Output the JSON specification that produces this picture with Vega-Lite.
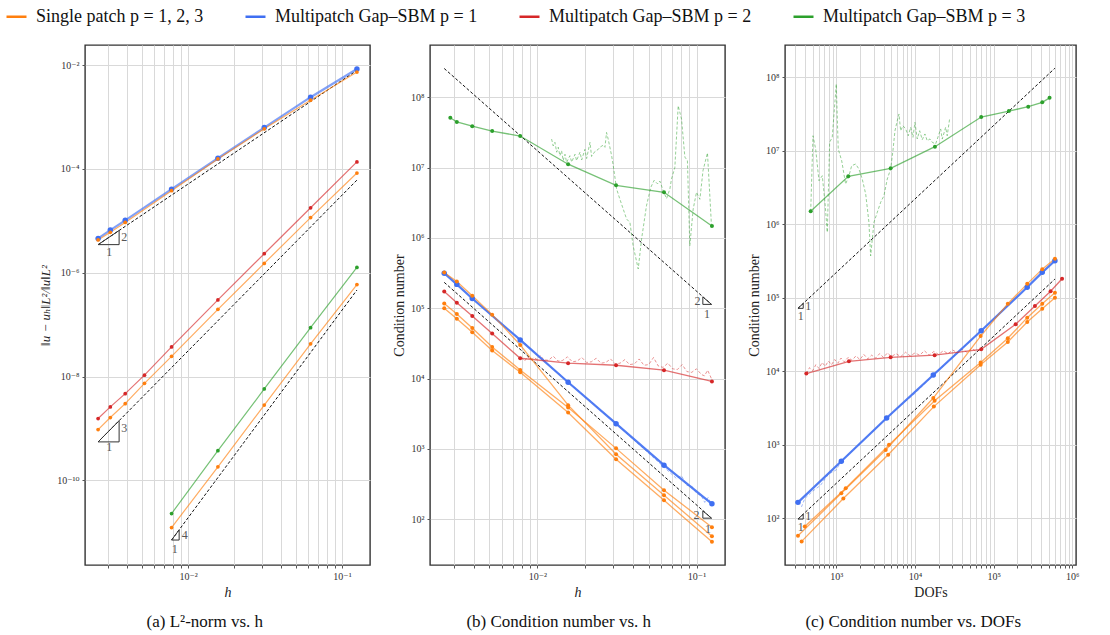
{
"$schema": "https://vega.github.io/schema/vega-lite/v6.json",
"padding": 5,
"background": "white",
"config": {
 "view": {"stroke": "#333", "strokeWidth": 1.4},
 "font": "Times New Roman, Liberation Serif, DejaVu Serif, serif",
 "axis": {"grid": true, "gridColor": "#d9d9d9", "gridWidth": 1, "domain": false, "tickColor": "#555", "tickSize": 3, "labelFont": "Times New Roman, Liberation Serif, DejaVu Serif, serif", "labelFontSize": 10, "labelColor": "#333", "titleFont": "Times New Roman, Liberation Serif, DejaVu Serif, serif", "titleFontWeight": "normal", "titleFontSize": 14, "titleColor": "#222", "labelOverlap": false, "labelFlush": false, "labelPadding": 3},
 "legend": {"labelFont": "Times New Roman, Liberation Serif, DejaVu Serif, serif", "titleFont": "Times New Roman, Liberation Serif, DejaVu Serif, serif"},
 "title": {"font": "Times New Roman, Liberation Serif, DejaVu Serif, serif", "fontSize": 17, "fontWeight": "normal", "color": "#111", "orient": "bottom", "offset": 15, "frame": "bounds", "anchor": "middle"},
 "text": {"font": "Times New Roman, Liberation Serif, DejaVu Serif, serif"}
},
"datasets": {
 "aMain": [
  {"x":0.0026042,"y":4.57e-6,"s":"M1","l":"M1"},{"x":0.003125,"y":6.61e-6,"s":"M1","l":"M1"},{"x":0.0039063,"y":1.02e-5,"s":"M1","l":"M1"},{"x":0.0078125,"y":4.07e-5,"s":"M1","l":"M1"},{"x":0.015625,"y":1.6e-4,"s":"M1","l":"M1"},{"x":0.03125,"y":6.24e-4,"s":"M1","l":"M1"},{"x":0.0625,"y":2.4e-3,"s":"M1","l":"M1"},{"x":0.125,"y":8.38e-3,"s":"M1","l":"M1"},
  {"x":0.0026042,"y":4.27e-6,"s":"S","l":"S1"},{"x":0.003125,"y":6.0e-6,"s":"S","l":"S1"},{"x":0.0039063,"y":9.3e-6,"s":"S","l":"S1"},{"x":0.0078125,"y":3.8e-5,"s":"S","l":"S1"},{"x":0.015625,"y":1.55e-4,"s":"S","l":"S1"},{"x":0.03125,"y":5.9e-4,"s":"S","l":"S1"},{"x":0.0625,"y":2.1e-3,"s":"S","l":"S1"},{"x":0.125,"y":7.33e-3,"s":"S","l":"S1"},
  {"x":0.0026042,"y":1.55e-9,"s":"M2","l":"M2"},{"x":0.003125,"y":2.6e-9,"s":"M2","l":"M2"},{"x":0.0039063,"y":4.68e-9,"s":"M2","l":"M2"},{"x":0.0052083,"y":1.06e-8,"s":"M2","l":"M2"},{"x":0.0078125,"y":3.72e-8,"s":"M2","l":"M2"},{"x":0.015625,"y":2.99e-7,"s":"M2","l":"M2"},{"x":0.03125,"y":2.32e-6,"s":"M2","l":"M2"},{"x":0.0625,"y":1.78e-5,"s":"M2","l":"M2"},{"x":0.125,"y":1.36e-4,"s":"M2","l":"M2"},
  {"x":0.0026042,"y":9.5e-10,"s":"S","l":"S2"},{"x":0.003125,"y":1.62e-9,"s":"S","l":"S2"},{"x":0.0039063,"y":3.0e-9,"s":"S","l":"S2"},{"x":0.0052083,"y":7.4e-9,"s":"S","l":"S2"},{"x":0.0078125,"y":2.45e-8,"s":"S","l":"S2"},{"x":0.015625,"y":1.97e-7,"s":"S","l":"S2"},{"x":0.03125,"y":1.51e-6,"s":"S","l":"S2"},{"x":0.0625,"y":1.15e-5,"s":"S","l":"S2"},{"x":0.125,"y":8.3e-5,"s":"S","l":"S2"},
  {"x":0.0078125,"y":2.29e-11,"s":"M3","l":"M3"},{"x":0.015625,"y":3.72e-10,"s":"M3","l":"M3"},{"x":0.03125,"y":5.75e-9,"s":"M3","l":"M3"},{"x":0.0625,"y":8.7e-8,"s":"M3","l":"M3"},{"x":0.125,"y":1.26e-6,"s":"M3","l":"M3"},
  {"x":0.0078125,"y":1.23e-11,"s":"S","l":"S3"},{"x":0.015625,"y":1.82e-10,"s":"S","l":"S3"},{"x":0.03125,"y":2.82e-9,"s":"S","l":"S3"},{"x":0.0625,"y":4.27e-8,"s":"S","l":"S3"},{"x":0.125,"y":5.9e-7,"s":"S","l":"S3"}
 ],
 "aRef": [
  {"x":0.0026042,"y":3.47e-6,"l":"r1"},{"x":0.125,"y":7.9e-3,"l":"r1"},
  {"x":0.0026042,"y":5.5e-10,"l":"r2"},{"x":0.125,"y":6.07e-5,"l":"r2"},
  {"x":0.0078125,"y":7.08e-12,"l":"r3"},{"x":0.125,"y":4.63e-7,"l":"r3"}
 ],
 "aTri": [
  {"x":0.0026042,"y":3.47e-6,"l":"t1","o":1},{"x":0.003565,"y":3.47e-6,"l":"t1","o":2},{"x":0.003565,"y":6.5e-6,"l":"t1","o":3},{"x":0.0026042,"y":3.47e-6,"l":"t1","o":4},
  {"x":0.0026042,"y":5.5e-10,"l":"t2","o":1},{"x":0.003565,"y":5.5e-10,"l":"t2","o":2},{"x":0.003565,"y":1.41e-9,"l":"t2","o":3},{"x":0.0026042,"y":5.5e-10,"l":"t2","o":4},
  {"x":0.0078125,"y":7.08e-12,"l":"t3","o":1},{"x":0.00875,"y":7.08e-12,"l":"t3","o":2},{"x":0.00875,"y":1.114e-11,"l":"t3","o":3},{"x":0.0078125,"y":7.08e-12,"l":"t3","o":4}
 ],
 "aLab": [
  {"x":0.003855,"y":4.85e-6,"t":"2"},{"x":0.00307,"y":2.51e-6,"t":"1"},
  {"x":0.003855,"y":1.03e-9,"t":"3"},{"x":0.00307,"y":4.31e-10,"t":"1"},
  {"x":0.00952,"y":8.7e-12,"t":"4"},{"x":0.0082,"y":4.8e-12,"t":"1"}
 ],
 "bMain": [
  {"x":0.0026042,"y":3.16e5,"s":"M1","l":"M1"},{"x":0.003125,"y":2.19e5,"s":"M1","l":"M1"},{"x":0.0039063,"y":1.38e5,"s":"M1","l":"M1"},{"x":0.0078125,"y":3.55e4,"s":"M1","l":"M1"},{"x":0.015625,"y":8900,"s":"M1","l":"M1"},{"x":0.03125,"y":2290,"s":"M1","l":"M1"},{"x":0.0625,"y":589,"s":"M1","l":"M1"},{"x":0.125,"y":166,"s":"M1","l":"M1"},
  {"x":0.0026042,"y":1.74e5,"s":"M2","l":"M2"},{"x":0.003125,"y":1.2e5,"s":"M2","l":"M2"},{"x":0.0039063,"y":7.76e4,"s":"M2","l":"M2"},{"x":0.0052083,"y":4.37e4,"s":"M2","l":"M2"},{"x":0.0078125,"y":1.95e4,"s":"M2","l":"M2"},{"x":0.015625,"y":1.66e4,"s":"M2","l":"M2"},{"x":0.03125,"y":1.55e4,"s":"M2","l":"M2"},{"x":0.0625,"y":1.32e4,"s":"M2","l":"M2"},{"x":0.125,"y":9120,"s":"M2","l":"M2"},
  {"x":0.002844,"y":5.13e7,"s":"M3","l":"M3"},{"x":0.003125,"y":4.47e7,"s":"M3","l":"M3"},{"x":0.0039063,"y":3.89e7,"s":"M3","l":"M3"},{"x":0.0052083,"y":3.31e7,"s":"M3","l":"M3"},{"x":0.0078125,"y":2.82e7,"s":"M3","l":"M3"},{"x":0.015625,"y":1.12e7,"s":"M3","l":"M3"},{"x":0.03125,"y":5.62e6,"s":"M3","l":"M3"},{"x":0.0625,"y":4.47e6,"s":"M3","l":"M3"},{"x":0.125,"y":1.48e6,"s":"M3","l":"M3"},
  {"x":0.0026042,"y":3.24e5,"s":"S","l":"S1"},{"x":0.003125,"y":2.4e5,"s":"S","l":"S1"},{"x":0.0039063,"y":1.51e5,"s":"S","l":"S1"},{"x":0.0052083,"y":8.13e4,"s":"S","l":"S1"},{"x":0.0078125,"y":3.02e4,"s":"S","l":"S1"},{"x":0.015625,"y":4200,"s":"S","l":"S1"},{"x":0.03125,"y":843,"s":"S","l":"S1"},{"x":0.0625,"y":220,"s":"S","l":"S1"},{"x":0.125,"y":57.5,"s":"S","l":"S1"},
  {"x":0.0026042,"y":1.0e5,"s":"S","l":"S2"},{"x":0.003125,"y":7.08e4,"s":"S","l":"S2"},{"x":0.0039063,"y":4.57e4,"s":"S","l":"S2"},{"x":0.0052083,"y":2.51e4,"s":"S","l":"S2"},{"x":0.0078125,"y":1.23e4,"s":"S","l":"S2"},{"x":0.015625,"y":3310,"s":"S","l":"S2"},{"x":0.03125,"y":716,"s":"S","l":"S2"},{"x":0.0625,"y":186,"s":"S","l":"S2"},{"x":0.125,"y":47.9,"s":"S","l":"S2"},
  {"x":0.0026042,"y":1.17e5,"s":"S","l":"S3"},{"x":0.003125,"y":8.32e4,"s":"S","l":"S3"},{"x":0.0039063,"y":5.25e4,"s":"S","l":"S3"},{"x":0.0052083,"y":2.82e4,"s":"S","l":"S3"},{"x":0.0078125,"y":1.33e4,"s":"S","l":"S3"},{"x":0.015625,"y":3890,"s":"S","l":"S3"},{"x":0.03125,"y":1020,"s":"S","l":"S3"},{"x":0.0625,"y":259,"s":"S","l":"S3"},{"x":0.125,"y":77.3,"s":"S","l":"S3"}
 ],
 "bFine": [
  {"x":0.01230,"y":2.553e7,"s":"M3"},{"x":0.01259,"y":2.042e7,"s":"M3"},{"x":0.01291,"y":2.291e7,"s":"M3"},{"x":0.01324,"y":1.660e7,"s":"M3"},{"x":0.01355,"y":1.950e7,"s":"M3"},{"x":0.01387,"y":1.479e7,"s":"M3"},{"x":0.01422,"y":1.738e7,"s":"M3"},{"x":0.01455,"y":1.259e7,"s":"M3"},{"x":0.01493,"y":1.549e7,"s":"M3"},{"x":0.01528,"y":1.189e7,"s":"M3"},{"x":0.01603,"y":1.479e7,"s":"M3"},{"x":0.01644,"y":1.202e7,"s":"M3"},{"x":0.01726,"y":1.549e7,"s":"M3"},{"x":0.01766,"y":1.259e7,"s":"M3"},{"x":0.01854,"y":1.660e7,"s":"M3"},{"x":0.01901,"y":1.288e7,"s":"M3"},{"x":0.01991,"y":1.820e7,"s":"M3"},{"x":0.02042,"y":1.349e7,"s":"M3"},{"x":0.02143,"y":2.291e7,"s":"M3"},{"x":0.02193,"y":1.445e7,"s":"M3"},{"x":0.02301,"y":1.698e7,"s":"M3"},{"x":0.02415,"y":1.820e7,"s":"M3"},{"x":0.02472,"y":1.950e7,"s":"M3"},{"x":0.02594,"y":2.089e7,"s":"M3"},{"x":0.02661,"y":1.950e7,"s":"M3"},{"x":0.02723,"y":3.162e7,"s":"M3"},{"x":0.02786,"y":2.570e7,"s":"M3"},{"x":0.02931,"y":1.479e7,"s":"M3"},{"x":0.02999,"y":1.072e7,"s":"M3"},{"x":0.03148,"y":5.01e6,"s":"M3"},{"x":0.03304,"y":3.55e6,"s":"M3"},{"x":0.03467,"y":2.57e6,"s":"M3"},{"x":0.03639,"y":1.862e6,"s":"M3"},{"x":0.03819,"y":1.660e6,"s":"M3"},{"x":0.03999,"y":7.76e5,"s":"M3"},{"x":0.04305,"y":3.63e5,"s":"M3"},{"x":0.04516,"y":9.55e5,"s":"M3"},{"x":0.04852,"y":2.88e6,"s":"M3"},{"x":0.05164,"y":5.25e6,"s":"M3"},{"x":0.05420,"y":6.61e6,"s":"M3"},{"x":0.05689,"y":5.89e6,"s":"M3"},{"x":0.05888,"y":6.46e6,"s":"M3"},{"x":0.06180,"y":4.68e6,"s":"M3"},{"x":0.06486,"y":3.63e6,"s":"M3"},{"x":0.06808,"y":5.01e6,"s":"M3"},{"x":0.06966,"y":6.92e6,"s":"M3"},{"x":0.07311,"y":1.0e7,"s":"M3"},{"x":0.07674,"y":7.59e7,"s":"M3"},{"x":0.08054,"y":4.90e7,"s":"M3"},{"x":0.08453,"y":1.413e7,"s":"M3"},{"x":0.08770,"y":1.259e7,"s":"M3"},{"x":0.09078,"y":7.76e5,"s":"M3"},{"x":0.09528,"y":2.57e6,"s":"M3"},{"x":0.1000,"y":4.47e6,"s":"M3"},{"x":0.1050,"y":3.55e6,"s":"M3"},{"x":0.1099,"y":9.12e6,"s":"M3"},{"x":0.1172,"y":1.622e7,"s":"M3"},{"x":0.1242,"y":1.479e6,"s":"M3"},
  {"x":0.007943,"y":19950,"s":"M2"},{"x":0.008318,"y":17780,"s":"M2"},{"x":0.008710,"y":20420,"s":"M2"},{"x":0.009120,"y":18200,"s":"M2"},{"x":0.009550,"y":19950,"s":"M2"},{"x":0.01,"y":18620,"s":"M2"},{"x":0.01047,"y":21380,"s":"M2"},{"x":0.01096,"y":18620,"s":"M2"},{"x":0.01175,"y":18200,"s":"M2"},{"x":0.01259,"y":20890,"s":"M2"},{"x":0.01349,"y":17780,"s":"M2"},{"x":0.01445,"y":18200,"s":"M2"},{"x":0.01549,"y":20420,"s":"M2"},{"x":0.01660,"y":17380,"s":"M2"},{"x":0.01778,"y":17780,"s":"M2"},{"x":0.01905,"y":19950,"s":"M2"},{"x":0.02042,"y":16980,"s":"M2"},{"x":0.02188,"y":17380,"s":"M2"},{"x":0.02344,"y":19500,"s":"M2"},{"x":0.02512,"y":16600,"s":"M2"},{"x":0.02692,"y":16980,"s":"M2"},{"x":0.02884,"y":19050,"s":"M2"},{"x":0.03090,"y":16220,"s":"M2"},{"x":0.03311,"y":16600,"s":"M2"},{"x":0.03548,"y":18620,"s":"M2"},{"x":0.03802,"y":15850,"s":"M2"},{"x":0.04074,"y":16220,"s":"M2"},{"x":0.04365,"y":19050,"s":"M2"},{"x":0.04677,"y":15490,"s":"M2"},{"x":0.05012,"y":15850,"s":"M2"},{"x":0.05370,"y":19950,"s":"M2"},{"x":0.05754,"y":15140,"s":"M2"},{"x":0.06166,"y":14450,"s":"M2"},{"x":0.06607,"y":16600,"s":"M2"},{"x":0.07079,"y":13800,"s":"M2"},{"x":0.07586,"y":13490,"s":"M2"},{"x":0.08128,"y":15850,"s":"M2"},{"x":0.08710,"y":12590,"s":"M2"},{"x":0.09333,"y":12300,"s":"M2"},{"x":0.1,"y":13800,"s":"M2"},{"x":0.1072,"y":11480,"s":"M2"},{"x":0.1122,"y":10960,"s":"M2"},{"x":0.1175,"y":13180,"s":"M2"},{"x":0.1259,"y":9333,"s":"M2"},
  {"x":0.007943,"y":35480,"s":"M1"},{"x":0.008913,"y":27860,"s":"M1"},{"x":0.01,"y":21380,"s":"M1"},{"x":0.01122,"y":17580,"s":"M1"},{"x":0.01259,"y":13490,"s":"M1"},{"x":0.01413,"y":11090,"s":"M1"},{"x":0.01585,"y":8511,"s":"M1"},{"x":0.01778,"y":7079,"s":"M1"},{"x":0.01995,"y":5495,"s":"M1"},{"x":0.02239,"y":4519,"s":"M1"},{"x":0.02512,"y":3467,"s":"M1"},{"x":0.02818,"y":2851,"s":"M1"},{"x":0.03162,"y":2239,"s":"M1"},{"x":0.07487,"y":380,"s":"M1"},{"x":0.08054,"y":417,"s":"M1"},{"x":0.08650,"y":305,"s":"M1"},{"x":0.09311,"y":299,"s":"M1"},{"x":0.1,"y":234,"s":"M1"},{"x":0.1074,"y":214,"s":"M1"},{"x":0.1127,"y":174,"s":"M1"},{"x":0.1183,"y":204,"s":"M1"},{"x":0.1242,"y":164,"s":"M1"}
 ],
 "bRef": [
  {"x":0.0026042,"y":2.57e8,"l":"r1"},{"x":0.1242,"y":1.138e5,"l":"r1"},
  {"x":0.0026042,"y":2.34e5,"l":"r2"},{"x":0.1242,"y":103.8,"l":"r2"}
 ],
 "bTri": [
  {"x":0.1096,"y":1.452e5,"l":"t1","o":1},{"x":0.1096,"y":1.138e5,"l":"t1","o":2},{"x":0.1242,"y":1.138e5,"l":"t1","o":3},{"x":0.1096,"y":1.452e5,"l":"t1","o":4},
  {"x":0.1096,"y":132,"l":"t2","o":1},{"x":0.1096,"y":103.8,"l":"t2","o":2},{"x":0.1242,"y":103.8,"l":"t2","o":3},{"x":0.1096,"y":132,"l":"t2","o":4}
 ],
 "bLab": [
  {"x":0.1014,"y":1.253e5,"t":"2"},{"x":0.1165,"y":8.26e4,"t":"1"},
  {"x":0.1,"y":114,"t":"2"},{"x":0.1183,"y":74,"t":"1"}
 ],
 "cMain": [
  {"x":326,"y":165,"s":"M1","l":"M1"},{"x":1159,"y":597,"s":"M1","l":"M1"},{"x":4365,"y":2317,"s":"M1","l":"M1"},{"x":17100,"y":8913,"s":"M1","l":"M1"},{"x":69500,"y":35600,"s":"M1","l":"M1"},{"x":267000,"y":139000,"s":"M1","l":"M1"},{"x":415000,"y":222000,"s":"M1","l":"M1"},{"x":601000,"y":320000,"s":"M1","l":"M1"},
  {"x":416,"y":9333,"s":"M2","l":"M2"},{"x":1449,"y":13680,"s":"M2","l":"M2"},{"x":4909,"y":15490,"s":"M2","l":"M2"},{"x":17780,"y":16600,"s":"M2","l":"M2"},{"x":69500,"y":19950,"s":"M2","l":"M2"},{"x":190500,"y":43650,"s":"M2","l":"M2"},{"x":335000,"y":77620,"s":"M2","l":"M2"},{"x":530000,"y":123000,"s":"M2","l":"M2"},{"x":741000,"y":182000,"s":"M2","l":"M2"},
  {"x":473,"y":1.503e6,"s":"M3","l":"M3"},{"x":1422,"y":4.5e6,"s":"M3","l":"M3"},{"x":4909,"y":5.78e6,"s":"M3","l":"M3"},{"x":17950,"y":1.138e7,"s":"M3","l":"M3"},{"x":69500,"y":2.88e7,"s":"M3","l":"M3"},{"x":156300,"y":3.47e7,"s":"M3","l":"M3"},{"x":275400,"y":3.98e7,"s":"M3","l":"M3"},{"x":415000,"y":4.57e7,"s":"M3","l":"M3"},{"x":514000,"y":5.25e7,"s":"M3","l":"M3"},
  {"x":326,"y":57.9,"s":"S","l":"S1"},{"x":1159,"y":219,"s":"S","l":"S1"},{"x":4246,"y":851,"s":"S","l":"S1"},{"x":17100,"y":4335,"s":"S","l":"S1"},{"x":68400,"y":30200,"s":"S","l":"S1"},{"x":151400,"y":83180,"s":"S","l":"S1"},{"x":267300,"y":154900,"s":"S","l":"S1"},{"x":415000,"y":245500,"s":"S","l":"S1"},{"x":601000,"y":338800,"s":"S","l":"S1"},
  {"x":363,"y":48.6,"s":"S","l":"S2"},{"x":1230,"y":186,"s":"S","l":"S2"},{"x":4571,"y":733,"s":"S","l":"S2"},{"x":17380,"y":3311,"s":"S","l":"S2"},{"x":68400,"y":12300,"s":"S","l":"S2"},{"x":151400,"y":25100,"s":"S","l":"S2"},{"x":267300,"y":46800,"s":"S","l":"S2"},{"x":415000,"y":70800,"s":"S","l":"S2"},{"x":601000,"y":100000,"s":"S","l":"S2"},
  {"x":398,"y":77.6,"s":"S","l":"S3"},{"x":1318,"y":257,"s":"S","l":"S3"},{"x":4677,"y":1000,"s":"S","l":"S3"},{"x":17780,"y":3981,"s":"S","l":"S3"},{"x":68400,"y":13180,"s":"S","l":"S3"},{"x":151400,"y":28180,"s":"S","l":"S3"},{"x":267300,"y":53700,"s":"S","l":"S3"},{"x":415000,"y":83180,"s":"S","l":"S3"},{"x":601000,"y":117500,"s":"S","l":"S3"}
 ],
 "cFine": [
  {"x":473,"y":1.483e6,"s":"M3"},{"x":506,"y":1.603e7,"s":"M3"},{"x":547,"y":1.057e7,"s":"M3"},{"x":603,"y":3.917e6,"s":"M3"},{"x":664,"y":4.581e6,"s":"M3"},{"x":718,"y":1.991e6,"s":"M3"},{"x":769,"y":7.78e5,"s":"M3"},{"x":824,"y":1.306e7,"s":"M3"},{"x":889,"y":1.528e7,"s":"M3"},{"x":1000,"y":8.11e7,"s":"M3"},{"x":1059,"y":1.057e7,"s":"M3"},{"x":1172,"y":7.33e6,"s":"M3"},{"x":1315,"y":3.532e6,"s":"M3"},{"x":1449,"y":4.581e6,"s":"M3"},{"x":1570,"y":6.27e6,"s":"M3"},{"x":1762,"y":6.61e6,"s":"M3"},{"x":1941,"y":5.65e6,"s":"M3"},{"x":2138,"y":4.13e6,"s":"M3"},{"x":2366,"y":2.582e6,"s":"M3"},{"x":2600,"y":1.064e6,"s":"M3"},{"x":2735,"y":3.72e5,"s":"M3"},{"x":3013,"y":1.064e6,"s":"M3"},{"x":3319,"y":1.455e6,"s":"M3"},{"x":3664,"y":1.991e6,"s":"M3"},{"x":4036,"y":2.449e6,"s":"M3"},{"x":4446,"y":4.13e6,"s":"M3"},{"x":4909,"y":5.65e6,"s":"M3"},{"x":5248,"y":1.002e7,"s":"M3"},{"x":5572,"y":1.875e7,"s":"M3"},{"x":5957,"y":2.564e7,"s":"M3"},{"x":6266,"y":3.17e7,"s":"M3"},{"x":6577,"y":1.875e7,"s":"M3"},{"x":7047,"y":2.193e7,"s":"M3"},{"x":7621,"y":1.982e7,"s":"M3"},{"x":8222,"y":1.603e7,"s":"M3"},{"x":8810,"y":2.089e7,"s":"M3"},{"x":9441,"y":1.528e7,"s":"M3"},{"x":10000,"y":2.443e7,"s":"M3"},{"x":10690,"y":1.449e7,"s":"M3"},{"x":11480,"y":1.875e7,"s":"M3"},{"x":12390,"y":1.416e7,"s":"M3"},{"x":13400,"y":1.694e7,"s":"M3"},{"x":14320,"y":1.371e7,"s":"M3"},{"x":15520,"y":1.449e7,"s":"M3"},{"x":16600,"y":1.306e7,"s":"M3"},{"x":18320,"y":1.239e7,"s":"M3"},{"x":21230,"y":1.982e7,"s":"M3"},{"x":22230,"y":1.445e7,"s":"M3"},{"x":24550,"y":2.089e7,"s":"M3"},{"x":25700,"y":1.603e7,"s":"M3"},{"x":27540,"y":2.692e7,"s":"M3"},
  {"x":417,"y":9333,"s":"M2"},{"x":457,"y":11220,"s":"M2"},{"x":501,"y":10230,"s":"M2"},{"x":550,"y":12300,"s":"M2"},{"x":603,"y":10960,"s":"M2"},{"x":661,"y":13180,"s":"M2"},{"x":724,"y":11750,"s":"M2"},{"x":794,"y":13800,"s":"M2"},{"x":871,"y":12300,"s":"M2"},{"x":955,"y":14450,"s":"M2"},{"x":1047,"y":12880,"s":"M2"},{"x":1148,"y":15140,"s":"M2"},{"x":1259,"y":13490,"s":"M2"},{"x":1413,"y":15490,"s":"M2"},{"x":1585,"y":14130,"s":"M2"},{"x":1778,"y":16220,"s":"M2"},{"x":1995,"y":14450,"s":"M2"},{"x":2239,"y":16980,"s":"M2"},{"x":2512,"y":14790,"s":"M2"},{"x":2818,"y":16600,"s":"M2"},{"x":3162,"y":15140,"s":"M2"},{"x":3548,"y":17380,"s":"M2"},{"x":3981,"y":15490,"s":"M2"},{"x":4467,"y":17780,"s":"M2"},{"x":5012,"y":15850,"s":"M2"},{"x":5754,"y":17380,"s":"M2"},{"x":6607,"y":15850,"s":"M2"},{"x":7586,"y":18200,"s":"M2"},{"x":8710,"y":16220,"s":"M2"},{"x":10000,"y":17780,"s":"M2"},{"x":11480,"y":16600,"s":"M2"},{"x":13180,"y":19050,"s":"M2"},{"x":15140,"y":16600,"s":"M2"},{"x":17380,"y":18620,"s":"M2"},{"x":19950,"y":16980,"s":"M2"},{"x":22910,"y":19050,"s":"M2"},{"x":26300,"y":17380,"s":"M2"},{"x":30200,"y":19500,"s":"M2"},{"x":34670,"y":17780,"s":"M2"},{"x":39810,"y":19950,"s":"M2"},{"x":45710,"y":18200,"s":"M2"},{"x":52480,"y":20420,"s":"M2"},{"x":60260,"y":18620,"s":"M2"},{"x":69180,"y":19950,"s":"M2"},
  {"x":326,"y":166,"s":"M1"},{"x":363,"y":145,"s":"M1"},{"x":398,"y":186,"s":"M1"},{"x":501,"y":234,"s":"M1"},{"x":631,"y":282,"s":"M1"},{"x":794,"y":398,"s":"M1"},{"x":1000,"y":457,"s":"M1"},{"x":1159,"y":603,"s":"M1"},{"x":4365,"y":2317,"s":"M1"},{"x":6310,"y":3311,"s":"M1"},{"x":10000,"y":5012,"s":"M1"},{"x":17100,"y":8913,"s":"M1"},{"x":25120,"y":12880,"s":"M1"},{"x":39810,"y":20420,"s":"M1"},{"x":69500,"y":35650,"s":"M1"}
 ],
 "cRef": [
  {"x":326,"y":7.19e4,"l":"r1"},{"x":601000,"y":1.33e8,"l":"r1"},
  {"x":326,"y":97.7,"l":"r2"},{"x":601000,"y":1.8e5,"l":"r2"}
 ],
 "cTri": [
  {"x":326,"y":7.19e4,"l":"t1","o":1},{"x":380,"y":7.19e4,"l":"t1","o":2},{"x":380,"y":8.39e4,"l":"t1","o":3},{"x":326,"y":7.19e4,"l":"t1","o":4},
  {"x":326,"y":97.7,"l":"t2","o":1},{"x":380,"y":97.7,"l":"t2","o":2},{"x":380,"y":114,"l":"t2","o":3},{"x":326,"y":97.7,"l":"t2","o":4}
 ],
 "cLab": [
  {"x":440,"y":7.76e4,"t":"1"},{"x":353,"y":5.7e4,"t":"1"},
  {"x":440,"y":108,"t":"1"},{"x":353,"y":76,"t":"1"}
 ]
},
"spacing": 20,
"resolve": {"scale": {"color": "shared"}},
"hconcat": [
 {
  "width": 285, "height": 520,
  "title": {"text": "(a) L²-norm vs. h"},
  "layer": [
   {"data": {"name": "aRef"}, "mark": {"type": "line", "color": "#111", "strokeDash": [3, 2], "strokeWidth": 1, "clip": true},
    "encoding": {
     "x": {"field": "x", "type": "quantitative", "scale": {"type": "log", "domain": [0.00214, 0.152], "nice": false},
      "axis": {"title": "h", "titleFontStyle": "italic", "values": [0.003,0.004,0.005,0.006,0.007,0.008,0.009,0.01,0.02,0.03,0.04,0.05,0.06,0.07,0.08,0.09,0.1],
       "labelExpr": "abs(log(datum.value)/LN10 - round(log(datum.value)/LN10)) < 0.01 ? '10' + replace(replace(replace(replace(replace(replace(replace(replace(replace(replace(replace(toString(round(log(datum.value)/LN10)),'-','⁻'),'0','⁰'),'1','¹'),'2','²'),'3','³'),'4','⁴'),'5','⁵'),'6','⁶'),'7','⁷'),'8','⁸'),'9','⁹') : ''"}},
     "y": {"field": "y", "type": "quantitative", "scale": {"type": "log", "domain": [2.34e-12, 0.0243], "nice": false},
      "axis": {"title": "‖u − uₕ‖L²/‖u‖L²", "titleFontStyle": "italic", "titleFontSize": 13, "values": [1e-10, 1e-8, 1e-6, 1e-4, 1e-2],
       "labelExpr": "abs(log(datum.value)/LN10 - round(log(datum.value)/LN10)) < 0.01 ? '10' + replace(replace(replace(replace(replace(replace(replace(replace(replace(replace(replace(toString(round(log(datum.value)/LN10)),'-','⁻'),'0','⁰'),'1','¹'),'2','²'),'3','³'),'4','⁴'),'5','⁵'),'6','⁶'),'7','⁷'),'8','⁸'),'9','⁹') : ''"}},
     "detail": {"field": "l"}
    }},
   {"data": {"name": "aMain"}, "mark": {"type": "line", "opacity": 0.65, "clip": true},
    "encoding": {
     "x": {"field": "x", "type": "quantitative"},
     "y": {"field": "y", "type": "quantitative"},
     "detail": {"field": "l"},
     "color": {"field": "s", "type": "nominal", "scale": {"domain": ["S", "M1", "M2", "M3"], "range": ["#ff7f0e", "#3f6ff2", "#d62728", "#2ca02c"]},
      "legend": {"orient": "none", "direction": "horizontal", "legendX": -80, "legendY": -40, "title": null, "symbolType": "stroke", "symbolStrokeWidth": 2.5, "symbolSize": 400, "symbolOpacity": 1, "labelFont": "Times New Roman, Liberation Serif, DejaVu Serif, serif", "labelFontSize": 18, "labelColor": "#111", "labelLimit": 400, "columnPadding": 36, "labelOffset": 8,
       "labelExpr": "datum.label == 'S' ? 'Single patch p = 1, 2, 3' : datum.label == 'M1' ? 'Multipatch Gap–SBM p = 1' : datum.label == 'M2' ? 'Multipatch Gap–SBM p = 2' : 'Multipatch Gap–SBM p = 3'"}},
     "strokeWidth": {"condition": {"test": "datum.s == 'M1'", "value": 2.2}, "value": 1.2}
    }},
   {"data": {"name": "aMain"}, "mark": {"type": "circle", "opacity": 1, "clip": true},
    "encoding": {
     "x": {"field": "x", "type": "quantitative"},
     "y": {"field": "y", "type": "quantitative"},
     "color": {"field": "s", "type": "nominal", "legend": null},
     "size": {"condition": {"test": "datum.s == 'M1'", "value": 30}, "value": 14}
    }},
   {"data": {"name": "aTri"}, "mark": {"type": "line", "color": "#333", "strokeWidth": 1},
    "encoding": {"x": {"field": "x", "type": "quantitative"}, "y": {"field": "y", "type": "quantitative"}, "detail": {"field": "l"}, "order": {"field": "o"}}},
   {"data": {"name": "aLab"}, "mark": {"type": "text", "fontSize": 12, "color": "#555"},
    "encoding": {"x": {"field": "x", "type": "quantitative"}, "y": {"field": "y", "type": "quantitative"}, "text": {"field": "t"}}}
  ]
 },
 {
  "width": 295, "height": 520,
  "title": {"text": "(b) Condition number vs. h"},
  "layer": [
   {"data": {"name": "bRef"}, "mark": {"type": "line", "color": "#111", "strokeDash": [3, 2], "strokeWidth": 1, "clip": true},
    "encoding": {
     "x": {"field": "x", "type": "quantitative", "scale": {"type": "log", "domain": [0.00212, 0.151], "nice": false},
      "axis": {"title": "h", "titleFontStyle": "italic", "values": [0.003,0.004,0.005,0.006,0.007,0.008,0.009,0.01,0.02,0.03,0.04,0.05,0.06,0.07,0.08,0.09,0.1],
       "labelExpr": "abs(log(datum.value)/LN10 - round(log(datum.value)/LN10)) < 0.01 ? '10' + replace(replace(replace(replace(replace(replace(replace(replace(replace(replace(replace(toString(round(log(datum.value)/LN10)),'-','⁻'),'0','⁰'),'1','¹'),'2','²'),'3','³'),'4','⁴'),'5','⁵'),'6','⁶'),'7','⁷'),'8','⁸'),'9','⁹') : ''"}},
     "y": {"field": "y", "type": "quantitative", "scale": {"type": "log", "domain": [22.4, 5.55e8], "nice": false},
      "axis": {"title": "Condition number", "values": [100, 1000, 1e4, 1e5, 1e6, 1e7, 1e8],
       "labelExpr": "abs(log(datum.value)/LN10 - round(log(datum.value)/LN10)) < 0.01 ? '10' + replace(replace(replace(replace(replace(replace(replace(replace(replace(replace(replace(toString(round(log(datum.value)/LN10)),'-','⁻'),'0','⁰'),'1','¹'),'2','²'),'3','³'),'4','⁴'),'5','⁵'),'6','⁶'),'7','⁷'),'8','⁸'),'9','⁹') : ''"}},
     "detail": {"field": "l"}
    }},
   {"data": {"name": "bFine"}, "mark": {"type": "line", "opacity": 0.5, "strokeDash": [3, 2], "strokeWidth": 1, "clip": true},
    "encoding": {"x": {"field": "x", "type": "quantitative"}, "y": {"field": "y", "type": "quantitative"}, "color": {"field": "s", "type": "nominal", "legend": null}}},
   {"data": {"name": "bMain"}, "mark": {"type": "line", "clip": true},
    "encoding": {
     "x": {"field": "x", "type": "quantitative"},
     "y": {"field": "y", "type": "quantitative"},
     "detail": {"field": "l"},
     "color": {"field": "s", "type": "nominal", "legend": null},
     "opacity": {"condition": {"test": "datum.s == 'M1'", "value": 0.9}, "value": 0.65},
     "strokeWidth": {"condition": {"test": "datum.s == 'M1'", "value": 2.2}, "value": 1.3}
    }},
   {"data": {"name": "bMain"}, "mark": {"type": "circle", "opacity": 1, "clip": true},
    "encoding": {
     "x": {"field": "x", "type": "quantitative"},
     "y": {"field": "y", "type": "quantitative"},
     "color": {"field": "s", "type": "nominal", "legend": null},
     "size": {"condition": {"test": "datum.s == 'M1'", "value": 30}, "value": 16}
    }},
   {"data": {"name": "bTri"}, "mark": {"type": "line", "color": "#333", "strokeWidth": 1},
    "encoding": {"x": {"field": "x", "type": "quantitative"}, "y": {"field": "y", "type": "quantitative"}, "detail": {"field": "l"}, "order": {"field": "o"}}},
   {"data": {"name": "bLab"}, "mark": {"type": "text", "fontSize": 12, "color": "#555"},
    "encoding": {"x": {"field": "x", "type": "quantitative"}, "y": {"field": "y", "type": "quantitative"}, "text": {"field": "t"}}}
  ]
 },
 {
  "width": 291, "height": 520,
  "title": {"text": "(c) Condition number vs. DOFs"},
  "layer": [
   {"data": {"name": "cRef"}, "mark": {"type": "line", "color": "#111", "strokeDash": [3, 2], "strokeWidth": 1, "clip": true},
    "encoding": {
     "x": {"field": "x", "type": "quantitative", "scale": {"type": "log", "domain": [223, 1.114e6], "nice": false},
      "axis": {"title": "DOFs", "values": [300,400,500,600,700,800,900,1000,2000,3000,4000,5000,6000,7000,8000,9000,10000,20000,30000,40000,50000,60000,70000,80000,90000,100000,200000,300000,400000,500000,600000,700000,800000,900000,1000000],
       "labelExpr": "abs(log(datum.value)/LN10 - round(log(datum.value)/LN10)) < 0.01 ? '10' + replace(replace(replace(replace(replace(replace(replace(replace(replace(replace(replace(toString(round(log(datum.value)/LN10)),'-','⁻'),'0','⁰'),'1','¹'),'2','²'),'3','³'),'4','⁴'),'5','⁵'),'6','⁶'),'7','⁷'),'8','⁸'),'9','⁹') : ''"}},
     "y": {"field": "y", "type": "quantitative", "scale": {"type": "log", "domain": [23.2, 2.75e8], "nice": false},
      "axis": {"title": "Condition number", "values": [100, 1000, 1e4, 1e5, 1e6, 1e7, 1e8],
       "labelExpr": "abs(log(datum.value)/LN10 - round(log(datum.value)/LN10)) < 0.01 ? '10' + replace(replace(replace(replace(replace(replace(replace(replace(replace(replace(replace(toString(round(log(datum.value)/LN10)),'-','⁻'),'0','⁰'),'1','¹'),'2','²'),'3','³'),'4','⁴'),'5','⁵'),'6','⁶'),'7','⁷'),'8','⁸'),'9','⁹') : ''"}},
     "detail": {"field": "l"}
    }},
   {"data": {"name": "cFine"}, "mark": {"type": "line", "opacity": 0.5, "strokeDash": [3, 2], "strokeWidth": 1, "clip": true},
    "encoding": {"x": {"field": "x", "type": "quantitative"}, "y": {"field": "y", "type": "quantitative"}, "color": {"field": "s", "type": "nominal", "legend": null}}},
   {"data": {"name": "cMain"}, "mark": {"type": "line", "clip": true},
    "encoding": {
     "x": {"field": "x", "type": "quantitative"},
     "y": {"field": "y", "type": "quantitative"},
     "detail": {"field": "l"},
     "color": {"field": "s", "type": "nominal", "legend": null},
     "opacity": {"condition": {"test": "datum.s == 'M1'", "value": 0.9}, "value": 0.65},
     "strokeWidth": {"condition": {"test": "datum.s == 'M1'", "value": 2.2}, "value": 1.3}
    }},
   {"data": {"name": "cMain"}, "mark": {"type": "circle", "opacity": 1, "clip": true},
    "encoding": {
     "x": {"field": "x", "type": "quantitative"},
     "y": {"field": "y", "type": "quantitative"},
     "color": {"field": "s", "type": "nominal", "legend": null},
     "size": {"condition": {"test": "datum.s == 'M1'", "value": 30}, "value": 16}
    }},
   {"data": {"name": "cTri"}, "mark": {"type": "line", "color": "#333", "strokeWidth": 1},
    "encoding": {"x": {"field": "x", "type": "quantitative"}, "y": {"field": "y", "type": "quantitative"}, "detail": {"field": "l"}, "order": {"field": "o"}}},
   {"data": {"name": "cLab"}, "mark": {"type": "text", "fontSize": 12, "color": "#555"},
    "encoding": {"x": {"field": "x", "type": "quantitative"}, "y": {"field": "y", "type": "quantitative"}, "text": {"field": "t"}}}
  ]
 }
]
}
